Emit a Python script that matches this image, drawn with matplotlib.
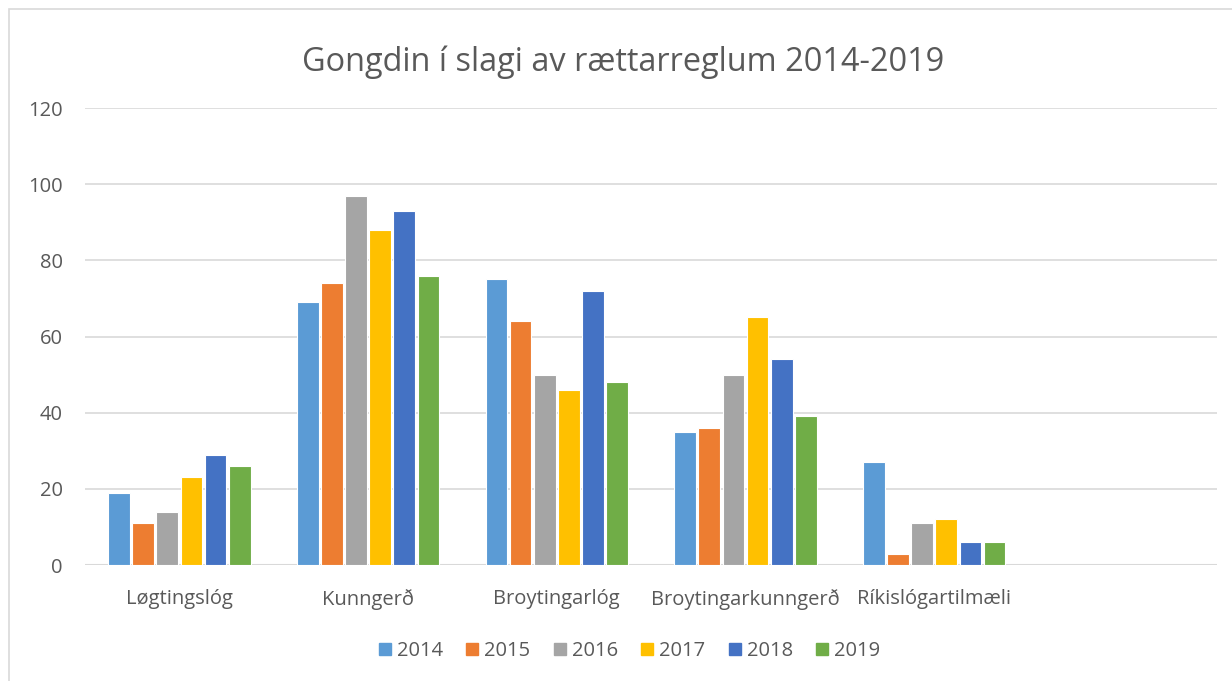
import matplotlib
matplotlib.use("Agg")
import matplotlib.pyplot as plt
import matplotlib.patches as mpatches
import numpy as np

# Data
kategoriir = ["Løgtingslóg", "Kunngerð", "Broytingarlóg",
              "Broytingarkunngerð", "Ríkislógartilmæli"]
ar = ["2014", "2015", "2016", "2017", "2018", "2019"]
v2014 = [19, 69, 75, 35, 27]
v2015 = [11, 74, 64, 36, 3]
v2016 = [14, 97, 50, 50, 11]
v2017 = [23, 88, 46, 65, 12]
v2018 = [29, 93, 72, 54, 6]
v2019 = [26, 76, 48, 39, 6]
seriur = [v2014, v2015, v2016, v2017, v2018, v2019]

FARVUR = ["#5B9BD5", "#ED7D31", "#A5A5A5", "#FFC000", "#4472C4", "#70AD47"]
GRAA = "#595959"
FONT = "Open Sans"

fig = plt.figure(figsize=(12.32, 6.81), dpi=100)
ax = fig.add_axes([0.069, 0.1703, 0.919, 0.6711])

x = np.arange(len(kategoriir))
steg = 0.128
breidd = 0.115
for i, (vals, farv) in enumerate(zip(seriur, FARVUR)):
    ax.bar(x + (i - 2.5) * steg, vals, breidd, color=farv,
           edgecolor="white", linewidth=0.8, zorder=3)

# eitt tómt pláss til høgru, sum í upprunaligu myndini
ax.set_xlim(-0.5, len(kategoriir) + 0.5)
ax.set_ylim(0, 120)
ax.set_yticks(range(0, 121, 20))
ax.grid(axis="y", color="#D9D9D9", linewidth=1.2, zorder=0)
for s in ax.spines.values():
    s.set_visible(False)
ax.axhline(0, color="#D9D9D9", linewidth=1.5, zorder=2)
ax.tick_params(axis="both", length=0, labelsize=14.5, labelcolor=GRAA)
ax.tick_params(axis="y", pad=16)
ax.tick_params(axis="x", pad=17)
ax.set_xticks(x)
ax.set_xticklabels(kategoriir, fontfamily=FONT)
for lab in ax.get_yticklabels():
    lab.set_fontfamily(FONT)

fig.text(0.506, 0.908, "Gongdin í slagi av rættarreglum 2014-2019",
         ha="center", va="center", fontsize=23.4, color=GRAA, fontfamily=FONT)

handles = [mpatches.Patch(color=c, label=a) for c, a in zip(FARVUR, ar)]
leg = fig.legend(handles=handles, loc="center", bbox_to_anchor=(0.511, 0.044),
                 ncol=6, frameon=False, handlelength=0.6, handleheight=0.6,
                 handletextpad=0.3, columnspacing=1.15,
                 prop={"family": FONT, "size": 14.5})
for t in leg.get_texts():
    t.set_color(GRAA)

# ramma um diagrammið
fig.patches.append(mpatches.Rectangle((9 / 1232, -0.01), 1.02, 1 - 9 / 681 + 0.01,
                                      transform=fig.transFigure, fill=False,
                                      edgecolor="#D9D9D9", linewidth=1.2))

fig.savefig("out.png", dpi=100, facecolor="white")
